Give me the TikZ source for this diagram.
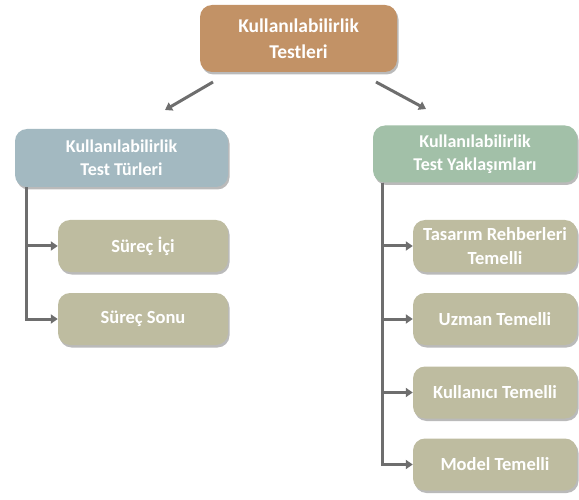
\documentclass[tikz,border=0pt]{standalone}
\usepackage{fontspec}
\setmainfont{Carlito}
\usetikzlibrary{shadows,arrows.meta}

\definecolor{topbrown}{HTML}{C29266}
\definecolor{typeblue}{HTML}{A3B9C1}
\definecolor{apprgreen}{HTML}{A2C0A8}
\definecolor{leafolive}{HTML}{BEBCA0}
\definecolor{linegray}{HTML}{6E6E6E}

\tikzset{
  box/.style={rounded corners=12pt, align=center, text=white, font=\bfseries,
    inner sep=0pt, drop shadow={shadow xshift=1.5pt, shadow yshift=-2.5pt, fill=black!45, opacity=0.6}},
  leaf/.style={box, fill=leafolive, minimum height=52pt, font=\bfseries\fontsize{18.5}{24}\selectfont},
  link/.style={linegray, line width=3pt, -{Triangle[length=7pt,width=9pt]}}
}

\begin{document}
\begin{tikzpicture}[x=1pt,y=-1pt]
  \useasboundingbox (0,0) rectangle (579,500);

  % Root
  \node[box, fill=topbrown, minimum width=197pt, minimum height=67pt, font=\bfseries\fontsize{19.5}{26}\selectfont]
    (root) at (298.5,38.5) {Kullanılabilirlik\\Testleri};

  % Second level
  \node[box, fill=typeblue, minimum width=213pt, minimum height=58pt, font=\bfseries\fontsize{18}{23}\selectfont]
    (types) at (121.5,158) {Kullanılabilirlik\\Test Türleri};
  \node[box, fill=apprgreen, minimum width=204pt, minimum height=57pt, font=\bfseries\fontsize{18}{23}\selectfont]
    (approaches) at (475,154) {Kullanılabilirlik\\Test Yaklaşımları};

  % Arrows from root
  \coordinate (la) at (213,82);
  \coordinate (lb) at (165,110);
  \coordinate (ra) at (376,82);
  \coordinate (rb) at (426,109);
  \draw[link] (la) -- (lb);
  \draw[link] (ra) -- (rb);

  % Left leaves
  \node[leaf, minimum width=170pt] (surecici) at (143,246) {Süreç İçi};
  \node[leaf, minimum width=170pt] (surecsonu) at (143,319) {Süreç Sonu};

  % Right leaves
  \node[leaf, minimum width=164pt] (tasarim) at (495,246) {Tasarım Rehberleri\\Temelli};
  \node[leaf, minimum width=164pt] (uzman) at (495,319) {Uzman Temelli};
  \node[leaf, minimum width=164pt] (kullanici) at (495,392.5) {Kullanıcı Temelli};
  \node[leaf, minimum width=164pt] (model) at (495,464.5) {Model Temelli};

  % Left tree lines
  \draw[link] ([xshift=12pt]types.south west) |- (surecici.west);
  \draw[link] ([xshift=12pt]types.south west) |- (surecsonu.west);

  % Right tree lines
  \draw[link] ([xshift=10pt]approaches.south west) |- (tasarim.west);
  \draw[link] ([xshift=10pt]approaches.south west) |- (uzman.west);
  \draw[link] ([xshift=10pt]approaches.south west) |- (kullanici.west);
  \draw[link] ([xshift=10pt]approaches.south west) |- (model.west);
\end{tikzpicture}
\end{document}
